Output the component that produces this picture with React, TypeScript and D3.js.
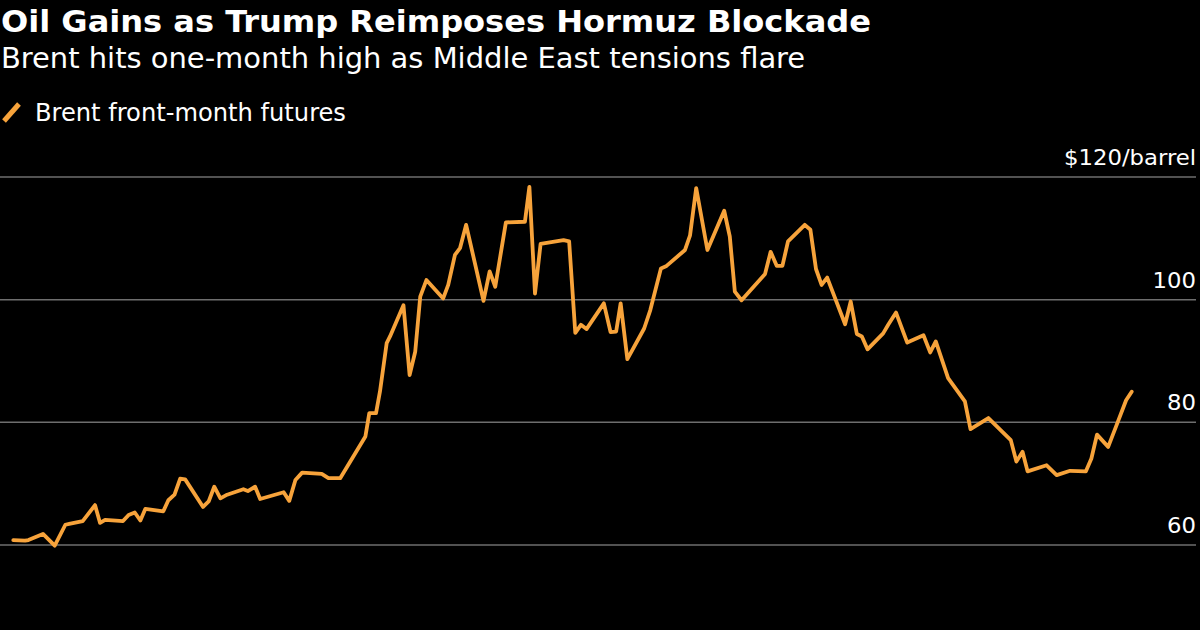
import React from "react";
import * as d3 from "d3";

const days: number[] = [
  0, 2.1, 2.7, 5.3, 7.4, 9.3, 10.2, 12.4, 14.6, 15.5, 16.4, 19.6, 20.6, 21.7, 22.7, 23.6,
  26.8, 27.7, 28.8, 29.8, 30.7, 33.9, 34.9, 35.9, 37.0, 38.2, 41.1, 41.9, 43.2, 44.1,
  48.3, 49.3, 50.4, 51.6, 55.1, 56.3, 58.4, 62.9, 63.6, 64.8, 65.5, 66.7, 67.3, 69.7,
  70.8, 71.8, 72.7, 73.8, 76.8, 77.7, 78.9, 79.8, 80.9, 84.0, 85.1, 86.1, 88.0, 91.4,
  92.2, 93.2, 94.2, 98.3, 99.3, 100.4, 101.4, 102.4, 105.5, 106.7, 107.7, 108.5, 109.7,
  112.7, 113.8, 115.7, 116.7, 120.0, 120.9, 122.0, 124.0, 127.0, 128.0, 128.9, 130.1,
  134.3, 135.3, 136.4, 137.4, 138.4, 141.4, 142.4, 143.4, 144.4, 145.4, 148.6, 149.6,
  150.7, 151.6, 152.6, 155.4, 156.3, 157.7, 159.7, 162.6, 163.8, 164.8, 167.0, 170.0,
  171.0, 174.2, 178.2, 179.2, 180.3, 181.2, 184.6, 186.4, 188.8, 191.6, 192.6, 193.6,
  195.6, 197.2, 198.8, 199.8,
];

const brent: number[] = [
  60.8, 60.7, 60.8, 61.8, 59.9, 63.3, 63.5, 63.9, 66.5, 63.6, 64.1, 63.9, 64.9, 65.3, 64.0, 65.9,
  65.5, 67.3, 68.2, 70.8, 70.7, 66.2, 67.1, 69.5, 67.6, 68.2, 69.1, 68.8, 69.5, 67.5,
  68.6, 67.2, 70.6, 71.8, 71.6, 70.9, 70.9, 77.7, 81.5, 81.5, 85.0, 92.9, 94.0, 99.1,
  87.7, 91.5, 100.5, 103.2, 100.2, 102.4, 107.3, 108.4, 112.2, 99.8, 104.6, 102.1, 112.6, 112.7,
  118.4, 101.0, 109.1, 109.7, 109.5, 94.6, 95.9, 95.2, 99.4, 94.7, 94.8, 99.4, 90.3,
  95.3, 98.3, 105.1, 105.5, 108.1, 110.5, 118.2, 108.1, 114.5, 110.3, 101.3, 99.9,
  104.2, 107.8, 105.5, 105.5, 109.5, 112.2, 111.4, 105.0, 102.4, 103.6, 96.0, 99.7,
  94.4, 94.0, 91.9, 94.5, 95.9, 97.9, 93.0, 94.2, 91.4, 93.2, 87.2, 83.4,
  78.9, 80.7, 77.1, 73.6, 75.2, 72.0, 73.0, 71.4, 72.1, 72.0, 74.1, 78.0,
  76.0, 79.8, 83.6, 85.0,
];

const yTicks: number[] = [60, 80, 100, 120];
const yTickLabels: string[] = ["60", "80", "100", "$120/barrel"];

const title = "Oil Gains as Trump Reimposes Hormuz Blockade";
const subtitle = "Brent hits one-month high as Middle East tensions flare";
const legendLabel = "Brent front-month futures";

const W = 1200;
const H = 630;
const FONT = "'DejaVu Sans Condensed', 'DejaVu Sans', sans-serif";
const ORANGE = "#f7a33b";

// stretch condensed glyphs horizontally to match the reference proportions
const SX = 1.15;

function StretchText(props: {
  x: number;
  y: number;
  size: number;
  bold?: boolean;
  anchor?: "start" | "end";
  sx?: number;
  children: string;
}) {
  const { x, y, size, bold, anchor, children } = props;
  const sx = props.sx ?? SX;
  return (
    <text
      transform={`translate(${x},${y}) scale(${sx},1)`}
      textAnchor={anchor || "start"}
      fill="#fff"
      fontFamily={FONT}
      fontWeight={bold ? "bold" : "normal"}
      fontSize={size}
    >
      {children}
    </text>
  );
}

export default function App() {
  const x = d3.scaleLinear().domain([0, d3.max(days) as number]).range([13.3, 1131.7]);
  const y = d3.scaleLinear().domain([60, 120]).range([545, 177]);
  const line = d3
    .line<number>()
    .x((_, i) => x(days[i]))
    .y((d) => y(d))
    .curve(d3.curveLinear);

  return (
    <svg
      width={W}
      height={H}
      style={{ position: "absolute", left: 0, top: 0, background: "#000" }}
    >
      <rect x={0} y={0} width={W} height={H} fill="#000" />
      <StretchText x={1} y={32} size={31} bold>
        {title}
      </StretchText>
      <StretchText x={1} y={68} size={28}>
        {subtitle}
      </StretchText>
      <line x1={4} y1={121} x2={19} y2={104} stroke={ORANGE} strokeWidth={5} />
      <StretchText x={35} y={121} size={24} sx={1.12}>
        {legendLabel}
      </StretchText>
      {yTicks.map((t, i) => (
        <g key={t}>
          <line x1={0} x2={1196} y1={y(t)} y2={y(t)} stroke="#6e6e6e" strokeWidth={1.5} />
          <StretchText x={1196} y={y(t) - 12} size={22} anchor="end">
            {yTickLabels[i]}
          </StretchText>
        </g>
      ))}
      <path
        d={line(brent) || ""}
        fill="none"
        stroke={ORANGE}
        strokeWidth={3.8}
        strokeLinejoin="round"
        strokeLinecap="round"
      />
    </svg>
  );
}
